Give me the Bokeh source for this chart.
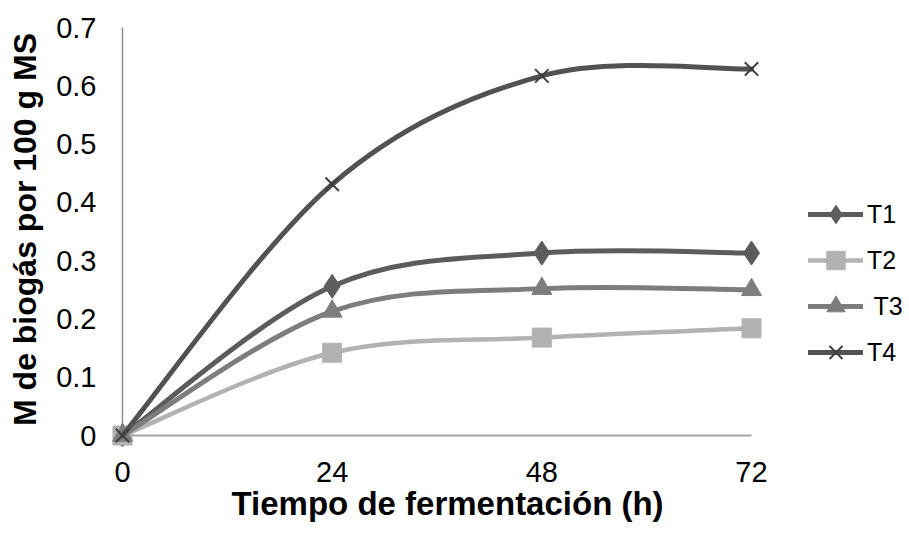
import numpy as np
from bokeh.plotting import figure
from bokeh.models import Range1d, FixedTicker, Legend, LegendItem, Title
from bokeh.embed import file_html
from bokeh.resources import INLINE

# ---- data ----
time_h = [0, 24, 48, 72]
t1 = [0, 0.256, 0.313, 0.313]
t2 = [0, 0.142, 0.168, 0.184]
t3 = [0, 0.213, 0.252, 0.250]
t4 = [0, 0.431, 0.617, 0.629]
series_names = ["T1", "T2", " T3", "T4"]
x_ticks = [0, 24, 48, 72]
y_ticks = [0, 0.1, 0.2, 0.3, 0.4, 0.5, 0.6, 0.7]
x_title = "Tiempo de fermentación (h)"
y_title = "M de biogás por 100 g MS"

FONT = "Liberation Sans"

X0, X1 = -1.3736, 90.087      # frame extent (legend sits inside the frame on the right)
p = figure(width=909, height=535, output_backend="svg", toolbar_location=None,
           x_range=Range1d(X0, X1), y_range=Range1d(-0.01887, 0.72574),
           min_border_left=110, min_border_right=0, min_border_top=12, min_border_bottom=89)
p.outline_line_color = None
p.xgrid.visible = False
p.ygrid.visible = False
p.background_fill_color = "white"

for ax in (p.xaxis, p.yaxis):
    ax.axis_line_color = None
    ax.major_tick_line_color = None
    ax.minor_tick_line_color = None
    ax.major_tick_out = 0
    ax.major_tick_in = 0
    ax.minor_tick_out = 0
    ax.minor_tick_in = 0
    ax.major_label_text_font = FONT
    ax.major_label_text_font_size = "29px"
    ax.major_label_text_color = "black"
    ax.axis_label_text_font = FONT
    ax.axis_label_text_font_style = "bold"
    ax.axis_label_text_font_size = "32px"
    ax.axis_label_text_color = "black"

p.xaxis.ticker = FixedTicker(ticks=x_ticks)
p.yaxis.ticker = FixedTicker(ticks=y_ticks)
p.yaxis.major_label_overrides = {v: f"{v:g}" for v in y_ticks}
p.xaxis.major_label_overrides = {v: f"{v:g}" for v in x_ticks}
p.xaxis.major_label_standoff = 15
p.yaxis.major_label_standoff = 14
p.yaxis.axis_label = y_title
p.yaxis.axis_label_standoff = 10

# x-axis title, centred under the plotting area (not under the legend)
p.add_layout(Title(text=x_title, align="left", offset=121, vertical_align="top", standoff=0,
                   text_font=FONT, text_font_size="33px", text_font_style="bold",
                   text_color="black"), "below")

# axis lines drawn in data space
p.segment(x0=[x_ticks[0]], y0=[y_ticks[0]], x1=[x_ticks[0]], y1=[y_ticks[-1]],
          line_color="#8c8c8c", line_width=1.5)
p.segment(x0=[x_ticks[0]], y0=[y_ticks[0]], x1=[x_ticks[-1]], y1=[y_ticks[0]],
          line_color="#a3a3a3", line_width=2)


def smooth_segments(xs, ys):
    """Excel-style smoothed line: cubic Bezier pieces through the data points."""
    xs = np.asarray(xs, float)
    ys = np.asarray(ys, float)
    n = len(xs)
    d = dict(x0=[], y0=[], x1=[], y1=[], cx0=[], cy0=[], cx1=[], cy1=[])
    for i in range(n - 1):
        a = max(i - 1, 0)
        b = min(i + 2, n - 1)
        d["x0"].append(xs[i]); d["y0"].append(ys[i])
        d["x1"].append(xs[i + 1]); d["y1"].append(ys[i + 1])
        d["cx0"].append(xs[i] + (xs[i + 1] - xs[a]) / 6)
        d["cy0"].append(ys[i] + (ys[i + 1] - ys[a]) / 6)
        d["cx1"].append(xs[i + 1] - (xs[b] - xs[i]) / 6)
        d["cy1"].append(ys[i + 1] - (ys[b] - ys[i]) / 6)
    return d


styles = [
    dict(color="#5c5c5c", lw=5, marker="diamond", size=24, mcolor="#5c5c5c", mlw=1),
    dict(color="#b2b2b2", lw=4.5, marker="square", size=19, mcolor="#b2b2b2", mlw=1),
    dict(color="#7d7d7d", lw=5, marker="triangle", size=20, mcolor="#7d7d7d", mlw=1),
    dict(color="#525252", lw=5, marker="x", size=19, mcolor="#3f3f3f", mlw=2),
]

items = []
for name, ys, st in zip(series_names, [t1, t2, t3, t4], styles):
    seg = smooth_segments(time_h, ys)
    bz = p.bezier(source=seg, x0="x0", y0="y0", x1="x1", y1="y1",
                  cx0="cx0", cy0="cy0", cx1="cx1", cy1="cy1",
                  line_color=st["color"], line_width=st["lw"], line_cap="round")
    sc = p.scatter(x=time_h, y=ys, marker=st["marker"], size=st["size"],
                   fill_color=st["mcolor"], line_color=st["mcolor"], line_width=st["mlw"])
    items.append(LegendItem(label=name, renderers=[bz, sc]))

legend = Legend(items=items, location=(698, 71), orientation="vertical",
                glyph_width=55, glyph_height=46, label_height=46, spacing=0,
                padding=0, margin=0, label_standoff=4,
                label_text_font=FONT, label_text_font_size="25px", label_text_color="black",
                border_line_color=None, background_fill_alpha=0)
p.add_layout(legend)

open("out.html", "w").write(file_html(p, INLINE))
